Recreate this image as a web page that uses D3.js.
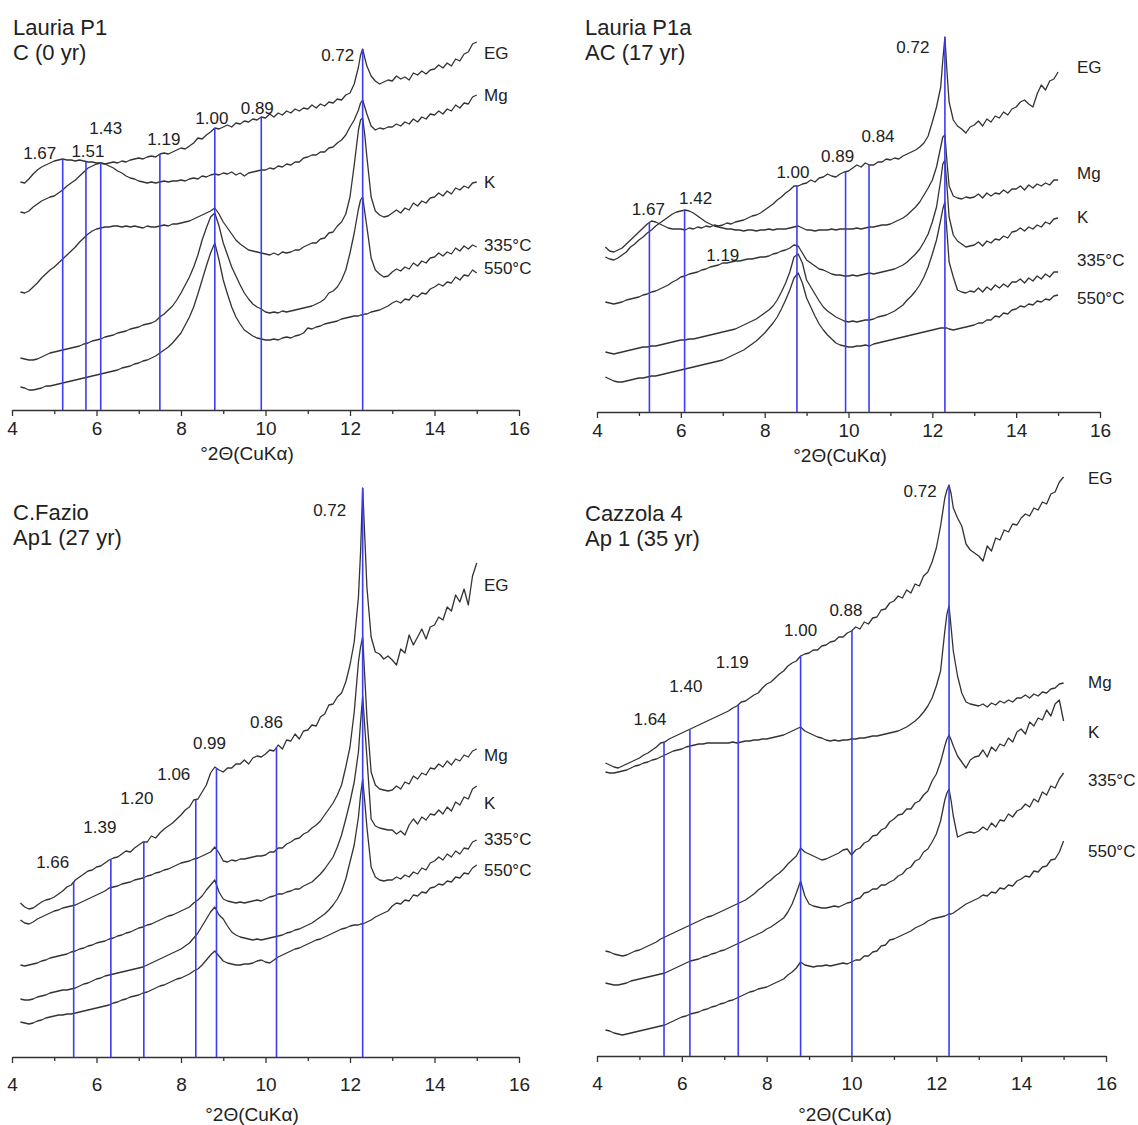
<!DOCTYPE html>
<html>
<head>
  <meta charset="utf-8">
  <title>XRD patterns - four profiles</title>
  <script src="https://cdn.jsdelivr.net/npm/d3@7"></script>
  <style type="text/css">
    body { margin: 0; background: #fff; }
    svg text { font-family: "Liberation Sans", Arial, sans-serif; fill: #222; }
  </style>
</head>
<body>
<script>

// 2theta grid shared by every pattern (finer around the 0.72 nm peak)
var twoTheta = [4.2,4.3,4.4,4.5,4.6,4.7,4.8,4.9,
  5.0,5.1,5.2,5.3,5.4,5.5,5.6,5.7,5.8,5.9,
  6.0,6.1,6.2,6.3,6.4,6.5,6.6,6.7,6.8,6.9,
  7.0,7.1,7.2,7.3,7.4,7.5,7.6,7.7,7.8,7.9,
  8.0,8.1,8.2,8.3,8.4,8.5,8.6,8.7,8.8,8.9,
  9.0,9.1,9.2,9.3,9.4,9.5,9.6,9.7,9.8,9.9,
  10.0,10.1,10.2,10.3,10.4,10.5,10.6,10.7,10.8,10.9,
  11.0,11.1,11.2,11.3,11.4,11.5,11.6,11.7,11.8,11.9,
  12.0,12.1,12.2,12.25,12.3,12.35,12.4,
  12.5,12.6,12.7,12.8,12.9,
  13.0,13.1,13.2,13.3,13.4,13.5,13.6,13.7,13.8,13.9,
  14.0,14.1,14.2,14.3,14.4,14.5,14.6,14.7,14.8,14.9,15.0];

var treatments = ["EG", "Mg", "K", "335°C", "550°C"];
var majorTicks = [4, 6, 8, 10, 12, 14, 16];
var minorTicks = [5, 7, 9, 11, 13, 15];

// ---- Lauria P1, C (0 yr) ----  (stacked intensities, arbitrary units)
var p1EG = [228,227,231,236,240,243,245,247,
  249,250,251,250,250,249,250,249,248,248,
  247,247,246,247,248,247,249,248,250,251,
  252,251,253,254,253,256,257,256,258,260,
  262,261,264,267,272,271,275,278,282,281,
  283,285,283,287,286,289,288,291,290,293,
  292,296,293,297,295,299,297,301,299,302,
  301,305,302,306,304,308,307,311,310,315,
  317,326,343,355,361,352,344,
  334,329,326,328,330,
  329,334,331,333,330,337,335,339,336,340,
  341,345,342,347,344,351,349,356,358,366,368];
var p1Mg = [198,197,199,203,206,209,211,213,
  214,217,220,224,227,230,234,238,242,244,
  246,247,246,244,242,239,237,234,232,231,
  229,228,227,228,227,228,229,228,229,229,
  230,229,231,232,231,234,233,235,236,235,
  237,236,238,235,237,234,237,238,239,240,
  240,242,241,244,243,246,245,248,248,252,
  253,255,255,258,258,262,263,267,270,275,
  283,290,300,307,310,303,296,
  284,280,282,281,283,
  283,286,284,288,286,291,288,293,291,296,
  295,299,296,301,299,305,302,307,306,313,315];
var p1K = [118,117,119,123,127,132,136,140,
  143,147,151,155,159,163,168,172,176,179,
  181,182,183,183,184,184,183,184,183,184,
  183,182,184,183,183,184,185,184,186,186,
  187,188,189,191,193,195,197,199,202,196,
  188,182,176,170,166,163,160,159,158,157,
  156,155,157,155,158,157,158,160,160,163,
  165,167,167,171,172,177,178,184,188,196,
  213,245,280,290,292,275,253,
  213,199,195,193,194,
  197,200,197,202,200,207,204,209,207,212,
  213,217,214,219,216,222,220,224,222,227,228];
var p1T335 = [52,51,50,50,51,53,55,57,
  58,59,60,61,62,63,64,66,67,69,
  70,71,73,74,75,77,78,79,81,82,
  83,85,86,87,89,93,96,100,104,110,
  117,125,133,143,155,170,182,193,197,184,
  167,155,143,134,125,117,111,106,103,101,
  98,97,98,97,99,98,99,100,101,102,
  103,104,106,108,111,117,119,123,130,140,
  157,177,201,210,213,198,183,
  152,140,136,133,134,
  138,141,139,143,141,147,144,149,147,152,
  153,157,154,158,156,162,159,164,161,165,163];
var p1T550 = [23,22,20,20,21,22,24,24,
  25,26,27,28,29,30,31,32,33,34,
  35,36,37,38,39,40,42,43,44,46,
  47,49,50,52,54,57,60,63,67,72,
  77,85,93,103,116,130,144,157,167,150,
  130,116,103,93,86,80,77,74,72,71,
  70,70,71,70,72,73,72,74,75,77,
  82,81,83,84,86,87,88,89,91,92,
  93,94,94,95,95,96,96,
  98,99,100,102,104,
  107,109,107,111,110,115,113,117,116,121,
  123,126,124,128,127,133,130,135,134,140,137];
var p1PeakPos = [5.2, 5.75, 6.1, 7.5, 8.8, 9.9, 12.3];
var p1PeakText = ["1.67", "1.51", "1.43", "1.19", "1.00", "0.89", "0.72"];
var p1PeakTrace = [0, 0, 1, 0, 0, 0, 0];

// ---- Lauria P1a, AC (17 yr) ----
var p2EG = [165,161,160,162,164,168,172,176,
  180,184,188,191,190,188,186,184,183,183,
  183,182,184,183,185,184,186,185,187,186,
  187,189,188,190,191,192,194,196,197,199,
  202,205,208,212,215,219,222,226,226,228,
  229,232,230,234,235,238,236,235,238,240,
  241,244,247,245,249,247,247,250,250,253,
  252,254,253,256,258,260,262,265,269,276,
  290,305,325,352,375,340,310,
  292,286,283,279,285,
  287,291,286,293,290,296,294,300,297,303,
  305,310,312,308,305,318,327,322,331,333,340];
var p2Mg = [155,153,152,154,157,160,165,168,
  172,175,179,182,186,189,192,195,198,200,
  201,202,201,199,196,193,190,188,186,185,
  184,183,183,182,182,181,182,182,181,182,
  182,183,182,183,183,183,184,185,186,184,
  182,182,181,182,182,182,183,182,183,183,
  183,183,184,183,184,185,185,186,187,187,
  188,190,192,194,197,201,205,210,217,224,
  232,245,265,275,277,250,226,
  216,214,213,215,214,
  215,218,214,219,216,219,218,222,219,223,
  223,226,222,227,224,228,226,229,227,232,232];
var p2K = [110,109,108,109,110,112,113,114,
  115,117,118,120,121,123,125,127,130,132,
  135,136,138,139,140,142,143,145,146,147,
  149,149,150,151,151,152,153,153,154,155,
  155,156,158,159,161,162,164,167,166,159,
  152,149,146,143,142,140,138,137,137,136,
  136,137,136,137,138,139,138,139,140,141,
  142,143,145,147,150,154,158,163,170,178,
  190,205,232,248,252,225,195,
  177,171,168,165,166,
  167,170,166,171,169,173,172,176,174,180,
  181,184,181,185,183,187,185,190,188,193,194];
var p2T335 = [60,59,58,59,60,61,62,63,
  64,65,65,66,66,67,68,69,70,71,
  72,72,73,73,74,75,76,77,78,79,
  80,81,82,83,85,87,89,91,93,96,
  99,102,106,112,120,129,140,155,158,149,
  132,125,118,111,105,101,98,95,93,91,
  90,91,90,91,92,92,93,95,96,97,
  99,101,104,107,112,116,121,127,135,145,
  158,172,192,203,210,180,150,
  135,122,120,119,121,
  120,124,120,125,122,127,124,128,125,130,
  130,133,129,134,131,136,133,138,135,140,140];
var p2T550 = [35,33,31,30,30,31,32,33,
  34,34,35,36,36,37,38,39,40,41,
  42,43,44,45,46,47,48,49,50,51,
  52,54,56,58,60,62,65,68,71,75,
  79,84,89,95,103,112,122,134,139,129,
  114,105,96,88,82,77,73,69,67,66,
  65,65,66,66,67,66,68,69,70,71,
  72,73,74,75,76,77,78,79,80,81,
  82,83,84,84,84,84,83,
  82,83,84,85,86,
  87,89,89,92,92,96,95,99,98,102,
  103,106,105,108,107,111,110,113,112,116,117];
var p2PeakPos = [5.25, 6.09, 7.0, 8.77, 9.93, 10.49, 12.3];
var p2PeakText = ["1.67", "1.42", "1.19", "1.00", "0.89", "0.84", "0.72"];
var p2PeakTrace = [0, 1, 2, 0, 0, 0, 0];
var p2PeakLine = [true, true, false, true, true, true, true];

// ---- C.Fazio, Ap1 (27 yr) ----
var p3EG = [154,150,148,149,152,155,157,158,
  160,163,166,170,172,177,180,183,186,187,
  190,191,194,197,199,200,203,206,205,209,
  212,215,215,221,219,224,228,231,234,238,
  242,247,250,257,258,265,272,284,290,287,
  285,289,289,293,293,297,293,299,301,300,
  303,307,306,312,308,317,316,323,318,326,
  327,332,331,340,343,352,353,360,364,375,
  392,415,460,505,569,520,470,
  420,405,403,398,401,
  397,392,408,404,422,412,420,428,418,430,
  432,440,437,450,446,462,455,468,452,481,494];
var p3Mg = [137,134,133,135,138,140,142,144,
  146,147,149,150,151,152,154,156,158,160,
  162,164,166,169,170,171,173,174,175,177,
  178,179,181,182,184,185,187,188,190,192,
  194,195,196,198,199,201,203,205,210,204,
  196,195,197,196,198,198,199,200,201,201,
  202,205,205,209,209,213,215,218,219,223,
  225,229,232,236,242,248,254,262,272,290,
  310,345,395,410,420,380,340,
  285,272,268,267,266,
  267,271,268,275,273,281,278,284,282,289,
  288,293,290,296,292,298,296,302,300,306,308];
var p3K = [92,91,92,93,94,96,97,99,
  100,101,102,103,105,106,108,109,111,112,
  114,115,116,118,119,121,122,124,125,127,
  129,130,132,133,135,137,139,141,142,144,
  146,148,150,154,157,161,167,172,177,165,
  158,156,155,154,155,154,155,156,157,156,
  158,160,161,163,163,165,166,168,168,171,
  173,175,179,183,188,194,200,210,222,238,
  255,275,305,335,361,330,300,
  238,231,229,228,227,
  227,223,226,222,232,238,233,240,237,243,
  242,247,243,250,246,255,252,260,258,268,271];
var p3T335 = [58,57,57,58,60,61,62,64,
  65,66,67,67,68,69,71,73,74,76,
  78,79,81,82,83,84,85,86,87,88,
  89,90,92,94,96,98,100,102,104,106,
  108,111,114,119,124,131,138,145,150,142,
  138,131,125,122,120,119,118,117,118,117,
  118,119,120,121,122,124,125,127,128,130,
  132,134,137,140,143,147,152,158,166,178,
  195,212,240,262,278,255,230,
  190,180,177,176,177,
  177,180,178,182,180,185,183,189,187,194,
  196,200,197,203,200,206,203,209,208,215,217];
var p3T550 = [35,34,33,34,36,37,39,40,
  41,42,42,43,43,44,45,46,47,48,
  49,50,51,52,54,55,57,58,60,61,
  62,64,65,67,69,71,72,74,76,78,
  79,81,83,86,88,92,97,102,106,101,
  96,94,93,92,92,93,93,94,96,97,
  95,94,97,100,102,104,106,108,109,111,
  113,115,117,118,120,122,124,126,128,129,
  131,132,132,133,133,134,135,
  137,140,142,144,146,
  151,154,153,157,156,162,161,165,164,169,
  170,173,172,176,175,180,179,184,183,189,192];
var p3PeakPos = [5.46, 6.34, 7.12, 8.35, 8.84, 10.26, 12.3];
var p3PeakText = ["1.66", "1.39", "1.20", "1.06", "0.99", "0.86", "0.72"];
var p3PeakTrace = [0, 0, 0, 0, 0, 0, 0];

// ---- Cazzola 4, Ap 1 (35 yr) ----
var p4EG = [293,291,289,288,290,292,294,296,
  298,301,303,306,309,313,314,317,319,321,
  323,325,327,329,331,333,335,337,339,341,
  343,345,348,350,354,355,358,361,363,368,
  372,374,378,382,385,390,393,395,400,402,
  403,406,406,410,411,414,415,419,419,423,
  425,429,427,434,432,438,439,446,447,453,
  455,460,458,466,463,472,470,480,484,494,
  508,530,558,566,571,562,548,
  538,530,512,506,503,
  500,495,510,505,518,516,526,524,532,531,
  538,542,540,548,546,554,552,562,564,574,579];
var p4Mg = [284,283,283,284,285,286,288,290,
  291,293,294,296,297,299,301,303,305,306,
  307,309,310,311,312,312,313,313,313,313,
  313,313,314,313,314,315,315,316,316,317,
  317,318,319,320,321,323,325,327,329,325,
  323,321,319,318,316,315,316,315,316,316,
  317,317,318,318,319,320,320,321,322,323,
  324,325,327,329,332,335,339,344,350,358,
  370,385,425,442,450,428,405,
  380,363,354,352,351,
  350,352,349,353,351,355,353,356,354,358,
  358,361,358,362,360,364,363,367,368,372,373];
var p4K = [105,104,102,101,100,101,103,105,
  106,108,110,112,114,117,119,121,123,125,
  127,129,131,133,135,137,139,140,142,144,
  146,148,150,152,154,156,159,162,166,169,
  173,176,180,183,187,192,196,200,208,204,
  202,200,198,196,197,199,201,203,206,207,
  201,206,208,213,215,220,221,226,228,234,
  237,241,242,247,247,253,255,261,265,275,
  282,294,310,317,321,316,310,
  300,294,288,296,299,
  300,306,299,309,305,312,310,318,314,324,
  327,322,334,330,338,336,346,340,352,356,335];
var p4T335 = [73,72,71,71,72,73,75,76,
  77,78,79,80,81,82,83,85,87,89,
  91,93,95,96,97,99,100,102,103,105,
  106,108,110,112,114,116,118,120,122,124,
  127,129,132,135,138,144,152,163,175,160,
  152,150,149,148,148,149,150,149,151,153,
  154,157,158,163,164,167,167,171,171,174,
  176,180,182,187,189,195,197,204,207,214,
  222,235,256,263,267,255,240,
  219,221,223,224,223,
  225,229,226,233,229,236,235,242,239,245,
  247,252,249,257,254,264,261,270,268,277,283];
var p4T550 = [26,25,23,22,21,22,23,24,
  25,26,27,28,29,30,31,33,35,37,
  39,40,42,43,44,46,47,49,50,52,
  53,55,56,58,60,62,64,65,67,68,
  69,71,73,75,77,81,84,88,94,91,
  90,89,90,90,91,90,91,92,93,92,
  94,96,96,100,100,104,105,110,111,116,
  117,119,121,123,125,128,130,132,135,137,
  138,139,140,141,142,142,143,
  146,149,152,154,156,
  158,161,160,164,163,168,167,171,170,175,
  177,180,179,185,184,189,190,196,197,204,215];
var p4PeakPos = [5.58, 6.19, 7.33, 8.8, 10.01, 12.3];
var p4PeakText = ["1.64", "1.40", "1.19", "1.00", "0.88", "0.72"];
var p4PeakTrace = [0, 0, 0, 0, 0, 0];

var panels = [
  {title: ["Lauria P1", "C (0 yr)"], series: [p1EG, p1Mg, p1K, p1T335, p1T550],
   peakPos: p1PeakPos, peakText: p1PeakText, peakTrace: p1PeakTrace},
  {title: ["Lauria P1a", "AC (17 yr)"], series: [p2EG, p2Mg, p2K, p2T335, p2T550],
   peakPos: p2PeakPos, peakText: p2PeakText, peakTrace: p2PeakTrace, peakLine: p2PeakLine},
  {title: ["C.Fazio", "Ap1 (27 yr)"], series: [p3EG, p3Mg, p3K, p3T335, p3T550],
   peakPos: p3PeakPos, peakText: p3PeakText, peakTrace: p3PeakTrace},
  {title: ["Cazzola 4", "Ap 1 (35 yr)"], series: [p4EG, p4Mg, p4K, p4T335, p4T550],
   peakPos: p4PeakPos, peakText: p4PeakText, peakTrace: p4PeakTrace}
];

// page layout of each panel (pixels)
var layout = [
  {x0: 12, x1: 519, axisY: 410, tickDy: 18, axisTitleX: 247, axisTitleDy: 43,
   titleX: 13, titleY: [35, 60], labelX: 484, labelY: [53, 95, 182, 245, 268],
   peakOff: [[-23,-6],[2,-10],[5,-35],[4,-15],[-3,-10],[-4,-9],[-25,6]]},
  {x0: 597, x1: 1100, axisY: 412, tickDy: 18, axisTitleX: 840, axisTitleDy: 43,
   titleX: 585, titleY: [35, 60], labelX: 1077, labelY: [67, 173, 217, 260, 298],
   peakOff: [[-1,-13],[11,-12],[0,-8],[-4,-14],[-8,-16],[9,-29],[-32,10]]},
  {x0: 12, x1: 519, axisY: 1057, tickDy: 27, axisTitleX: 252, axisTitleDy: 57,
   titleX: 13, titleY: [520, 545], labelX: 484, labelY: [585, 755, 803, 839, 870],
   peakOff: [[-21,-20],[-11,-32],[-7,-44],[-22,-25],[-7,-25],[-10,-25],[-33,22]]},
  {x0: 597, x1: 1106, axisY: 1056, tickDy: 27, axisTitleX: 845, axisTitleDy: 58,
   titleX: 585, titleY: [521, 546], labelX: 1088, labelY: [478, 682, 732, 780, 851],
   peakOff: [[-14,-23],[-4,-43],[-6,-43],[0,-26],[-6,-21],[-29,6]]}
];

var svg = d3.select("body").append("svg")
  .attr("width", 1138).attr("height", 1125)
  .style("background", "#fff");

function valueAt(series, x) {
  var i = d3.bisectLeft(twoTheta, x);
  if (i <= 0) return series[0];
  if (i >= twoTheta.length) return series[series.length - 1];
  var x0 = twoTheta[i - 1], x1 = twoTheta[i];
  var t = (x - x0) / (x1 - x0);
  return series[i - 1] + t * (series[i] - series[i - 1]);
}

panels.forEach(function (p, k) {
  var L = layout[k];
  var g = svg.append("g");

  var x = d3.scaleLinear().domain([4, 16]).range([L.x0, L.x1]);
  // one intensity unit per pixel, stacked patterns above the axis
  var y = d3.scaleLinear().domain([0, 100]).range([L.axisY, L.axisY - 100]);

  // minor ticks
  var minor = g.append("g").attr("transform", "translate(0," + L.axisY + ")")
    .call(d3.axisBottom(x).tickValues(minorTicks).tickSize(4).tickFormat(""));
  minor.select(".domain").remove();
  minor.selectAll("line").attr("stroke", "#333").attr("stroke-width", 1.3);

  // major ticks + labels
  var ax = g.append("g").attr("transform", "translate(0," + L.axisY + ")")
    .call(d3.axisBottom(x).tickValues(majorTicks).tickSize(6).tickSizeOuter(0)
      .tickFormat(d3.format("d")));
  ax.select(".domain").attr("stroke", "#333").attr("stroke-width", 1.5);
  ax.selectAll("line").attr("stroke", "#333").attr("stroke-width", 1.3);
  ax.selectAll("text").attr("y", L.tickDy).attr("dy", "0.35em")
    .style("font-size", "19px").style("font-family", "'Liberation Sans', Arial, sans-serif")
    .attr("fill", "#222");

  g.append("text")
    .attr("x", L.axisTitleX).attr("y", L.axisY + L.axisTitleDy).attr("dy", "0.35em")
    .attr("text-anchor", "middle").style("font-size", "19px")
    .text("°2Θ(CuKα)");

  // patterns
  var line = d3.line()
    .x(function (d, i) { return x(twoTheta[i]); })
    .y(function (d) { return y(d); });

  g.selectAll("path.trace").data(p.series).enter().append("path")
    .attr("class", "trace")
    .attr("d", function (d) { return line(d); })
    .attr("fill", "none")
    .attr("stroke", "#333")
    .attr("stroke-width", 1.3)
    .attr("stroke-linejoin", "round");

  // peak markers
  var peaks = p.peakPos.map(function (pos, j) {
    return {pos: pos, text: p.peakText[j],
      top: valueAt(p.series[p.peakTrace[j]], pos),
      line: p.peakLine ? p.peakLine[j] : true,
      off: L.peakOff[j]};
  });

  g.selectAll("line.peak").data(peaks.filter(function (d) { return d.line; }))
    .enter().append("line")
    .attr("class", "peak")
    .attr("x1", function (d) { return x(d.pos); })
    .attr("x2", function (d) { return x(d.pos); })
    .attr("y1", y(0))
    .attr("y2", function (d) { return y(d.top); })
    .attr("stroke", "#3c3cf2")
    .attr("stroke-width", 1.6);

  g.selectAll("text.peak").data(peaks).enter().append("text")
    .attr("class", "peak")
    .attr("x", function (d) { return x(d.pos) + d.off[0]; })
    .attr("y", function (d) { return y(d.top) + d.off[1]; })
    .attr("dy", "0.35em")
    .attr("text-anchor", "middle")
    .style("font-size", "17px")
    .text(function (d) { return d.text; });

  // treatment labels
  g.selectAll("text.treat").data(treatments).enter().append("text")
    .attr("class", "treat")
    .attr("x", L.labelX)
    .attr("y", function (d, i) { return L.labelY[i]; })
    .attr("dy", "0.35em")
    .style("font-size", "17px")
    .text(function (d) { return d; });

  // panel title
  g.selectAll("text.title").data(p.title).enter().append("text")
    .attr("class", "title")
    .attr("x", L.titleX)
    .attr("y", function (d, i) { return L.titleY[i]; })
    .style("font-size", "22px")
    .text(function (d) { return d; });
});

</script>
</body>
</html>
